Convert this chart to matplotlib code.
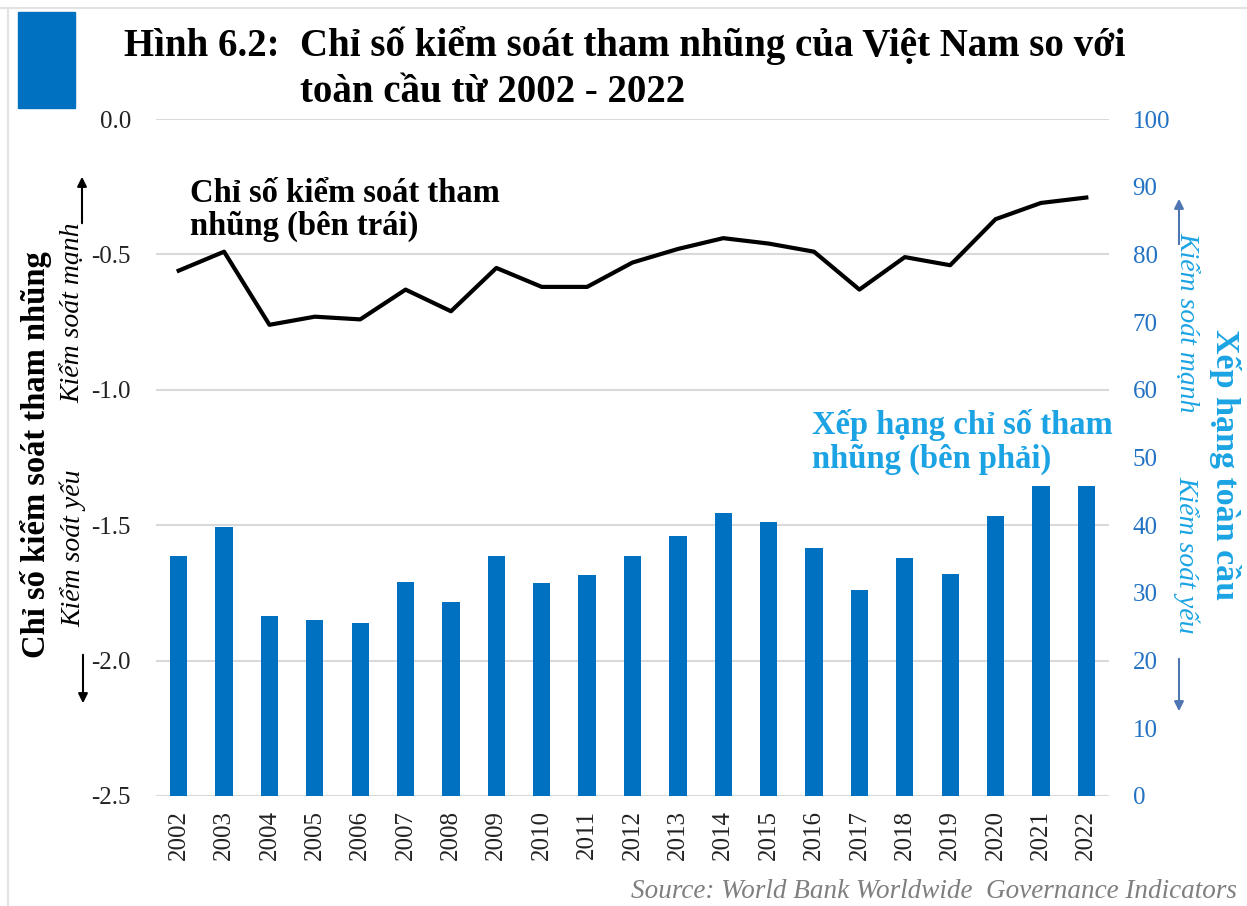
import numpy as np
import matplotlib.pyplot as plt
from matplotlib.patches import Rectangle
from matplotlib.lines import Line2D

plt.rcParams['font.family'] = ['Liberation Serif', 'DejaVu Serif']
plt.rcParams['axes.unicode_minus'] = False

years = list(range(2002, 2023))
# left axis: control of corruption index
cc_index = [-0.56, -0.49, -0.76, -0.73, -0.74, -0.63, -0.71, -0.55, -0.62, -0.62, -0.53,
            -0.48, -0.44, -0.46, -0.49, -0.63, -0.51, -0.54, -0.37, -0.31, -0.29]
# right axis: percentile rank
cc_rank = [35.4, 39.7, 26.6, 26.0, 25.5, 31.6, 28.6, 35.4, 31.4, 32.7, 35.5,
           38.4, 41.8, 40.4, 36.7, 30.5, 35.2, 32.8, 41.3, 45.8, 45.8]

W, H = 1247, 906
BLUE = '#0070C0'
LBLUE = '#1BA3E3'
TBLUE = '#2272C3'
ABLUE = '#4F76B3'

def fx(x):
    return x / W

def fy(y):
    return 1 - y / H

fig = plt.figure(figsize=(W / 100, H / 100), dpi=100)
ax = fig.add_axes([fx(156), fy(796), (1109 - 156) / W, (796 - 119) / H])
ax2 = ax.twinx()

# bars on right axis
ax2.bar(years, cc_rank, width=0.38, color=BLUE, zorder=3)
ax2.set_ylim(0, 100)
ax2.set_yticks(np.arange(0, 101, 10))
ax2.tick_params(axis='y', length=0, labelsize=18, labelcolor=TBLUE, pad=17)

# line on left axis
ax.plot(years, cc_index, color='black', lw=3, zorder=4)
ax.set_ylim(-2.5, 0.0)
ax.set_yticks(np.arange(-2.5, 0.01, 0.5))
ax.set_yticklabels(['%.1f' % v for v in np.arange(-2.5, 0.01, 0.5)])
ax.tick_params(axis='y', length=0, labelsize=18, labelcolor='#222222', pad=18)
ax.set_xlim(2001.5, 2022.5)
ax.set_xticks(years)
ax.set_xticklabels([str(y) for y in years], rotation=90)
ax.tick_params(axis='x', length=0, labelsize=18, labelcolor='#222222', pad=10)
ax.grid(axis='y', color='#D9D9D9', lw=1.5)
ax.set_axisbelow(True)
for a in (ax, ax2):
    for s in a.spines.values():
        s.set_visible(False)

# header
fig.add_artist(Rectangle((fx(18), fy(108)), (75 - 18) / W, (108 - 12) / H,
                         transform=fig.transFigure, color=BLUE))
fig.add_artist(Line2D([0, 1], [fy(8), fy(8)], transform=fig.transFigure, color='#E3E3E3', lw=1.5))
fig.add_artist(Line2D([fx(8), fx(8)], [0, fy(8)], transform=fig.transFigure, color='#E3E3E3', lw=1.5))
fig.text(fx(124), fy(46), 'Hình 6.2:', fontsize=28, fontweight='bold', va='center')
fig.text(fx(300), fy(46), 'Chỉ số kiểm soát tham nhũng của Việt Nam so với',
         fontsize=28, fontweight='bold', va='center')
fig.text(fx(300), fy(92), 'toàn cầu từ 2002 - 2022', fontsize=28, fontweight='bold', va='center')

# series labels
fig.text(fx(190), fy(210), 'Chỉ số kiểm soát tham\nnhũng (bên trái)', fontsize=23.5,
         fontweight='bold', va='center', linespacing=1.1)
fig.text(fx(812), fy(442), 'Xếp hạng chỉ số tham\nnhũng (bên phải)', fontsize=23.5,
         fontweight='bold', va='center', color=LBLUE, linespacing=1.1)

# left axis labels
fig.text(fx(36), fy(455), 'Chỉ số kiểm soát tham nhũng', fontsize=23.5, fontweight='bold',
         rotation=90, ha='center', va='center')
fig.text(fx(73), fy(313), 'Kiểm soát mạnh', fontsize=20, style='italic',
         rotation=90, ha='center', va='center')
fig.text(fx(73), fy(548), 'Kiểm soát yếu', fontsize=20, style='italic',
         rotation=90, ha='center', va='center')
ax.annotate('', xy=(fx(82), fy(174)), xytext=(fx(82), fy(226)), xycoords='figure fraction',
            arrowprops=dict(arrowstyle='-|>', color='black', lw=1.5, mutation_scale=14))
ax.annotate('', xy=(fx(83), fy(706)), xytext=(fx(83), fy(652)), xycoords='figure fraction',
            arrowprops=dict(arrowstyle='-|>', color='black', lw=1.5, mutation_scale=14))

# right axis labels
fig.text(fx(1225), fy(465), 'Xếp hạng toàn cầu', fontsize=24.5, fontweight='bold',
         rotation=-90, ha='center', va='center', color=LBLUE)
fig.text(fx(1187), fy(322), 'Kiểm soát mạnh', fontsize=20, style='italic',
         rotation=-90, ha='center', va='center', color=LBLUE)
fig.text(fx(1187), fy(555), 'Kiểm soát yếu', fontsize=20, style='italic',
         rotation=-90, ha='center', va='center', color=LBLUE)
ax.annotate('', xy=(fx(1179), fy(196)), xytext=(fx(1179), fy(247)), xycoords='figure fraction',
            arrowprops=dict(arrowstyle='-|>', color=ABLUE, lw=1.5, mutation_scale=14))
ax.annotate('', xy=(fx(1179), fy(714)), xytext=(fx(1179), fy(656)), xycoords='figure fraction',
            arrowprops=dict(arrowstyle='-|>', color=ABLUE, lw=1.5, mutation_scale=14))

fig.text(fx(1237), fy(891), 'Source: World Bank Worldwide  Governance Indicators',
         fontsize=19.5, style='italic', color='#7F7F7F', ha='right', va='center')

fig.savefig('out.png', dpi=100)
